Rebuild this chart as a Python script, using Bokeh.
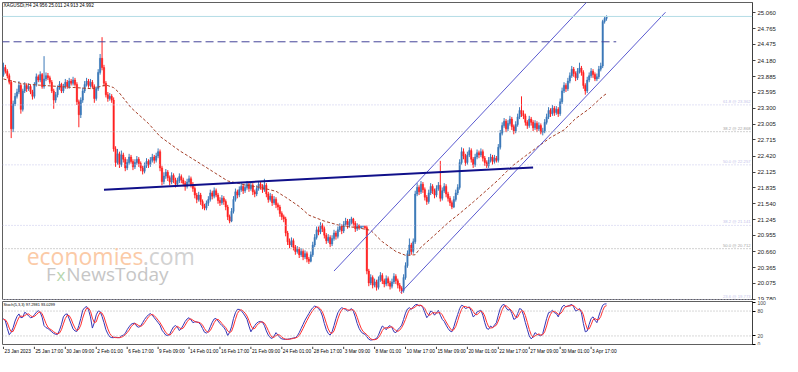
from bokeh.plotting import figure
from bokeh.layouts import column
from bokeh.models import Range1d, FixedTicker, Label, ColumnDataSource, Span, PrintfTickFormatter
from bokeh.embed import file_html
from bokeh.resources import INLINE
from bokeh.core.properties import value

FONT = "Liberation Sans"

# ---------------- data (XAGUSD H4) ----------------
bar_open = [
 23.92,24.05,23.98,23.90,23.78,22.92,23.38,23.52,23.60,23.72,
 23.28,23.62,23.72,23.66,23.70,23.60,23.52,23.74,23.88,23.82,
 23.92,23.70,23.84,23.90,23.86,23.78,23.62,23.45,23.55,23.68,
 23.74,23.62,23.70,23.78,23.70,23.80,23.76,23.82,23.74,23.42,
 23.18,23.45,23.62,23.74,23.80,23.72,23.78,23.70,23.48,23.66,
 23.96,24.22,24.05,23.76,23.55,23.48,23.52,23.45,22.55,22.30,
 22.46,22.26,22.44,22.36,22.20,22.30,22.40,22.32,22.22,22.30,
 22.36,22.28,22.20,22.14,22.24,22.32,22.26,22.34,22.40,22.34,
 22.42,22.50,22.20,21.95,22.05,22.12,22.02,21.94,22.06,21.98,
 21.90,21.96,22.04,21.98,21.92,21.86,21.94,22.00,21.90,21.82,
 21.70,21.62,21.70,21.58,21.50,21.46,21.55,21.62,21.74,21.68,
 21.78,21.70,21.60,21.56,21.64,21.58,21.48,21.30,21.22,21.40,
 21.62,21.76,21.70,21.80,21.86,21.78,21.84,21.90,21.82,21.88,
 21.76,21.72,21.82,21.90,21.86,21.80,21.88,21.72,21.62,21.68,
 21.56,21.62,21.52,21.48,21.36,21.30,21.26,21.00,20.84,20.78,
 20.86,20.74,20.66,20.70,20.60,20.66,20.56,20.62,20.52,20.48,
 20.60,20.78,20.92,21.06,21.02,21.14,21.08,20.96,20.86,20.92,
 20.80,20.90,21.00,20.94,21.06,21.12,21.04,21.16,21.22,21.14,
 21.20,21.26,21.18,21.08,21.14,21.10,21.12,21.12,21.10,20.30,
 20.08,20.18,20.04,20.10,20.00,20.14,20.22,20.12,20.06,20.16,
 20.08,20.02,20.10,20.20,20.12,20.04,19.98,19.94,20.18,20.40,
 20.62,20.78,20.66,20.84,21.72,21.84,21.76,21.90,21.80,21.66,
 21.58,21.74,21.86,21.78,21.70,21.82,21.88,21.64,21.78,21.86,
 21.72,21.64,21.56,21.48,21.62,21.74,21.84,22.30,22.50,22.42,
 22.30,22.44,22.52,22.36,22.26,22.40,22.48,22.44,22.50,22.38,
 22.30,22.24,22.34,22.40,22.32,22.38,22.34,22.58,22.84,22.98,
 23.06,22.92,23.02,23.10,22.96,22.88,23.00,23.14,23.26,23.20,
 23.16,23.04,22.98,23.10,23.04,22.94,23.02,22.92,22.98,22.86,
 22.88,23.04,23.14,23.26,23.20,23.30,23.22,23.28,23.20,23.42,
 23.62,23.72,23.66,23.80,23.90,24.02,23.94,23.86,23.98,24.04,
 23.96,23.72,23.62,23.82,23.90,23.98,23.92,23.84,23.88,24.02,
 24.08,24.90,24.956]
bar_high = [
 24.14,24.10,24.02,23.94,23.82,23.44,23.58,23.66,23.80,23.76,
 23.66,23.78,23.76,23.76,23.73,23.64,23.78,23.94,23.92,23.98,
 23.95,24.26,23.96,23.95,23.90,23.82,23.66,23.60,23.72,23.80,
 23.77,23.75,23.84,23.82,23.86,23.84,23.88,23.86,23.78,23.46,
 23.50,23.68,23.80,23.86,23.84,23.84,23.82,23.74,23.70,24.02,
 24.30,24.61,24.10,23.80,23.60,23.58,23.56,23.50,22.60,22.55,
 22.50,22.52,22.48,22.40,22.36,22.46,22.44,22.36,22.36,22.42,
 22.40,22.32,22.24,22.30,22.38,22.36,22.40,22.46,22.44,22.48,
 22.56,22.54,22.24,22.12,22.18,22.16,22.06,22.12,22.10,22.02,
 22.02,22.10,22.08,22.02,21.96,22.00,22.06,22.04,21.94,21.86,
 21.74,21.76,21.74,21.62,21.54,21.60,21.68,21.80,21.78,21.84,
 21.82,21.74,21.66,21.70,21.68,21.62,21.52,21.34,21.46,21.68,
 21.82,21.80,21.86,21.92,21.90,21.90,21.96,21.94,21.94,21.92,
 21.80,21.88,21.96,21.94,21.90,22.00,21.92,21.76,21.74,21.72,
 21.68,21.66,21.56,21.52,21.40,21.34,21.30,21.04,20.90,20.92,
 20.90,20.78,20.76,20.74,20.72,20.70,20.68,20.66,20.56,20.66,
 20.84,20.98,21.12,21.12,21.20,21.18,21.12,21.00,20.98,20.96,
 20.96,21.06,21.04,21.12,21.18,21.16,21.22,21.28,21.26,21.26,
 21.30,21.28,21.22,21.18,21.16,21.14,21.14,21.14,21.14,20.34,
 20.24,20.22,20.16,20.14,20.20,20.28,20.26,20.16,20.22,20.20,
 20.12,20.16,20.26,20.24,20.16,20.08,20.02,20.24,20.46,20.68,
 20.90,20.82,20.90,21.78,21.92,21.88,21.96,21.94,21.84,21.70,
 21.80,21.92,21.90,21.82,21.88,21.94,22.33,21.84,21.92,21.90,
 21.76,21.68,21.60,21.68,21.80,21.90,22.36,22.58,22.56,22.46,
 22.50,22.58,22.56,22.40,22.46,22.54,22.52,22.56,22.54,22.42,
 22.34,22.40,22.46,22.44,22.44,22.42,22.64,22.90,23.04,23.12,
 23.10,23.08,23.16,23.14,23.00,23.06,23.20,23.32,23.52,23.26,
 23.20,23.08,23.16,23.14,23.08,23.08,23.06,23.04,23.02,22.94,
 23.10,23.20,23.32,23.30,23.36,23.34,23.34,23.32,23.48,23.68,
 23.78,23.76,23.86,23.96,24.08,24.06,23.98,24.04,24.14,24.08,
 24.00,23.76,23.88,23.96,24.04,24.02,23.96,23.94,24.08,24.14,
 24.93,25.00,25.011]
bar_low = [
 23.88,23.94,23.85,23.74,22.75,22.86,23.34,23.48,23.56,23.20,
 23.24,23.58,23.60,23.62,23.56,23.46,23.48,23.70,23.78,23.78,
 23.66,23.66,23.80,23.82,23.74,23.58,23.29,23.40,23.50,23.64,
 23.58,23.58,23.66,23.66,23.66,23.72,23.72,23.70,23.36,22.95,
 23.12,23.40,23.58,23.70,23.68,23.68,23.66,23.40,23.44,23.62,
 23.92,24.00,23.70,23.50,23.42,23.44,23.40,22.50,22.22,22.26,
 22.20,22.22,22.30,22.14,22.16,22.26,22.28,22.16,22.18,22.26,
 22.22,22.14,22.08,22.10,22.20,22.20,22.22,22.30,22.28,22.30,
 22.38,22.14,21.88,21.90,22.00,21.96,21.88,21.90,21.92,21.84,
 21.86,21.92,21.92,21.86,21.78,21.82,21.90,21.84,21.76,21.64,
 21.55,21.58,21.52,21.44,21.42,21.42,21.50,21.58,21.62,21.64,
 21.66,21.54,21.50,21.52,21.52,21.42,21.24,21.18,21.20,21.36,
 21.58,21.64,21.66,21.76,21.72,21.74,21.80,21.76,21.78,21.70,
 21.66,21.68,21.78,21.80,21.74,21.76,21.66,21.56,21.58,21.50,
 21.52,21.46,21.42,21.30,21.24,21.20,20.94,20.78,20.72,20.74,
 20.68,20.60,20.62,20.54,20.56,20.50,20.52,20.46,20.43,20.46,
 20.56,20.74,20.88,20.96,20.98,21.02,20.90,20.80,20.82,20.74,
 20.76,20.86,20.88,20.90,21.02,20.98,21.00,21.12,21.08,21.10,
 21.16,21.12,21.02,21.04,21.06,21.08,21.10,21.06,20.24,20.02,
 20.04,19.98,20.00,19.94,19.96,20.10,20.06,20.00,20.02,20.02,
 19.96,19.98,20.06,20.06,19.98,19.92,19.88,19.90,20.14,20.36,
 20.58,20.60,20.62,20.80,21.68,21.70,21.72,21.74,21.60,21.52,
 21.54,21.70,21.72,21.64,21.66,21.78,21.58,21.60,21.74,21.66,
 21.58,21.50,21.44,21.46,21.58,21.70,21.80,22.26,22.36,22.24,
 22.26,22.40,22.30,22.20,22.22,22.36,22.38,22.40,22.32,22.24,
 22.20,22.20,22.30,22.26,22.28,22.30,22.30,22.54,22.80,22.94,
 22.86,22.88,22.98,22.90,22.82,22.84,22.96,23.10,23.14,23.10,
 22.98,22.92,22.94,22.98,22.88,22.90,22.86,22.88,22.82,22.80,
 22.84,23.00,23.10,23.14,23.16,23.16,23.18,23.14,23.16,23.38,
 23.58,23.60,23.62,23.76,23.86,23.88,23.80,23.82,23.94,23.90,
 23.66,23.55,23.58,23.78,23.86,23.86,23.80,23.80,23.84,23.98,
 24.04,24.86,24.913]
bar_close = [
 24.05,23.98,23.90,23.78,22.92,23.38,23.52,23.60,23.72,23.28,
 23.62,23.72,23.66,23.70,23.60,23.52,23.74,23.88,23.82,23.92,
 23.70,23.84,23.90,23.86,23.78,23.62,23.45,23.55,23.68,23.74,
 23.62,23.70,23.78,23.70,23.80,23.76,23.82,23.74,23.42,23.18,
 23.45,23.62,23.74,23.80,23.72,23.78,23.70,23.48,23.66,23.96,
 24.22,24.05,23.76,23.55,23.48,23.52,23.45,22.55,22.30,22.46,
 22.26,22.44,22.36,22.20,22.30,22.40,22.32,22.22,22.30,22.36,
 22.28,22.20,22.14,22.24,22.32,22.26,22.34,22.40,22.34,22.42,
 22.50,22.20,21.95,22.05,22.12,22.02,21.94,22.06,21.98,21.90,
 21.96,22.04,21.98,21.92,21.86,21.94,22.00,21.90,21.82,21.70,
 21.62,21.70,21.58,21.50,21.46,21.55,21.62,21.74,21.68,21.78,
 21.70,21.60,21.56,21.64,21.58,21.48,21.30,21.22,21.40,21.62,
 21.76,21.70,21.80,21.86,21.78,21.84,21.90,21.82,21.88,21.76,
 21.72,21.82,21.90,21.86,21.80,21.88,21.72,21.62,21.68,21.56,
 21.62,21.52,21.48,21.36,21.30,21.26,21.00,20.84,20.78,20.86,
 20.74,20.66,20.70,20.60,20.66,20.56,20.62,20.52,20.48,20.60,
 20.78,20.92,21.06,21.02,21.14,21.08,20.96,20.86,20.92,20.80,
 20.90,21.00,20.94,21.06,21.12,21.04,21.16,21.22,21.14,21.20,
 21.26,21.18,21.08,21.14,21.10,21.12,21.12,21.10,20.30,20.08,
 20.18,20.04,20.10,20.00,20.14,20.22,20.12,20.06,20.16,20.08,
 20.02,20.10,20.20,20.12,20.04,19.98,19.94,20.18,20.40,20.62,
 20.78,20.66,20.84,21.72,21.84,21.76,21.90,21.80,21.66,21.58,
 21.74,21.86,21.78,21.70,21.82,21.88,21.64,21.78,21.86,21.72,
 21.64,21.56,21.48,21.62,21.74,21.84,22.30,22.50,22.42,22.30,
 22.44,22.52,22.36,22.26,22.40,22.48,22.44,22.50,22.38,22.30,
 22.24,22.34,22.40,22.32,22.38,22.34,22.58,22.84,22.98,23.06,
 22.92,23.02,23.10,22.96,22.88,23.00,23.14,23.26,23.20,23.16,
 23.04,22.98,23.10,23.04,22.94,23.02,22.92,22.98,22.86,22.88,
 23.04,23.14,23.26,23.20,23.30,23.22,23.28,23.20,23.42,23.62,
 23.72,23.66,23.80,23.90,24.02,23.94,23.86,23.98,24.04,23.96,
 23.72,23.62,23.82,23.90,23.98,23.92,23.84,23.88,24.02,24.08,
 24.90,24.956,24.992]

# moving average (dashed), read at selected bars
ma_bar = [0, 10, 17, 33, 46, 53, 57, 60, 66, 75, 81, 91, 100, 108, 116, 126, 133, 141, 146,
          153, 158, 166, 175, 183, 190, 196, 203, 208, 213, 216, 223, 230, 236, 243, 250,
          256, 263, 270, 276, 283, 290, 296, 303, 310, 312]
ma_price = [23.84, 23.75, 23.73, 23.69, 23.66, 23.73, 23.68, 23.58, 23.31, 23.02, 22.78, 22.52,
            22.32, 22.14, 21.96, 21.88, 21.84, 21.77, 21.66, 21.49, 21.33, 21.22, 21.13, 21.10,
            21.05, 20.84, 20.66, 20.59, 20.60, 20.74, 20.96, 21.19, 21.36, 21.57, 21.79, 21.98,
            22.23, 22.42, 22.58, 22.76, 22.90, 23.11, 23.29, 23.52, 23.57]

# stochastic (5,3,3): main line (blue) and signal line (red)
stoch_main = [
 62,56,38,23,29,40,56,67,73,64, 65,77,74,68,64,65,71,77,81,77,
 65,45,40,38,34,30,26,24,24,34, 48,66,72,73,61,49,37,32,31,45,
 62,82,88,91,83,66,39,52,71,80, 79,67,52,35,25,18,16,16,17,16,
 16,20,22,26,35,42,48,50,51,43, 41,44,52,60,66,71,74,70,64,58,
 52,46,34,28,22,21,24,34,42,45, 41,33,38,46,55,61,64,59,52,54,
 54,52,47,38,29,27,31,42,53,61, 62,56,50,45,41,33,21,29,42,62,
 76,84,84,81,75,68,60,44,30,38, 45,51,54,55,53,45,32,22,16,14,
 20,28,22,16,13,12,12,12,13,14, 15,16,20,28,38,48,58,66,74,82,
 88,92,90,86,80,68,50,35,26,22, 30,45,62,76,84,88,86,84,80,82,
 86,80,66,50,38,30,26,24,18,12, 10,11,12,14,22,34,44,40,35,42,
 45,40,30,28,35,40,46,60,75,85, 88,84,90,95,96,92,94,88,76,64,
 70,80,78,70,76,82,70,60,55,46, 38,32,30,42,58,72,86,94,92,86,
 88,90,80,66,70,78,80,82,70,52, 38,36,44,40,46,52,70,86,94,96,
 88,82,84,74,60,62,74,86,84,70, 52,36,20,13,18,28,24,22,20,26,
 44,62,76,78,82,76,74,66,78,90, 94,90,92,94,96,90,80,82,86,76,
 50,30,32,48,62,66,58,52,68,82, 94,97,97.2981]
stoch_signal = [
 60,59,52,39,30,31,42,54,65,68, 67,69,72,73,69,66,67,71,76,78,
 74,62,50,41,37,34,30,27,25,27, 35,49,62,70,69,61,49,39,33,36,
 46,63,77,87,87,80,63,52,54,68, 77,75,66,51,37,26,20,17,16,16,
 16,17,19,23,28,34,42,47,50,48, 45,43,46,52,59,66,70,72,69,64,
 58,52,44,36,28,24,22,26,33,40, 43,40,37,39,46,54,60,61,58,55,
 53,53,51,46,38,31,29,33,42,52, 59,60,56,50,45,40,32,28,31,44,
 60,74,81,83,80,75,68,57,45,37, 38,45,50,53,54,51,43,33,23,17,
 17,21,23,22,17,14,12,12,12,13, 14,15,17,21,29,38,48,57,66,74,
 81,87,90,89,85,78,66,51,37,28, 26,32,46,61,74,83,86,86,83,82,
 83,83,77,65,51,39,31,27,23,18, 13,11,11,12,16,23,33,39,40,39,
 41,42,38,33,31,34,40,49,60,73, 83,86,87,90,94,94,94,91,86,76,
 70,71,76,76,75,76,76,71,62,54, 46,39,33,35,43,57,72,84,91,91,
 89,88,86,79,72,71,76,80,77,68, 53,42,39,40,43,46,56,69,83,92,
 93,89,85,80,73,65,65,74,81,80, 69,53,36,23,17,20,23,25,22,23,
 30,44,61,72,79,79,77,72,73,78, 87,91,92,92,94,93,89,84,83,81,
 71,52,37,37,47,59,62,59,59,67, 81,91,93.0299]

price_ticks = [19.780, 20.075, 20.365, 20.660, 20.955, 21.245, 21.540, 21.835, 22.125, 22.420,
               22.715, 23.005, 23.300, 23.595, 23.885, 24.180, 24.475, 24.765, 25.060]
date_tick_bars = list(range(0, 305, 16))
date_tick_labels = ["23 Jan 2023", "25 Jan 17:00", "30 Jan 09:00", "2 Feb 01:00", "6 Feb 17:00",
                    "9 Feb 09:00", "14 Feb 01:00", "16 Feb 17:00", "21 Feb 09:00", "24 Feb 01:00",
                    "28 Feb 17:00", "3 Mar 09:00", "8 Mar 01:00", "10 Mar 17:00", "15 Mar 09:00",
                    "20 Mar 01:00", "22 Mar 17:00", "27 Mar 09:00", "30 Mar 01:00", "3 Apr 17:00"]

fib_levels = [23.362, 22.868, 22.257, 21.141, 20.712, 19.773]
fib_texts = ["61.8 @ 23.362", "38.2 @ 22.868", "50.0 @ 22.257", "38.2 @ 21.141", "50.0 @ 20.712", "23.6 @ 19.773"]
fib_colors = ["#c4c4ea", "#a4a4a4", "#c4c4ea", "#c4c4ea", "#a4a4a4", "#c4c4ea"]

trend_bars = [52, 274]
trend_prices = [21.80, 22.21]
chan_up_bars = [171, 305]
chan_up_prices = [20.30, 25.38]
chan_lo_bars = [205.5, 342.5]
chan_lo_prices = [19.90, 25.07]
resist_bars = [-1, 317]
resist_prices = [24.525, 24.525]
bid_price = 24.992
title_text = "XAGUSDi,H4  24.956 25.011 24.913 24.992"
stoch_text = "Stoch(5,3,3) 97.2981 93.0299"

# ---------------- main price panel ----------------
n = min(len(bar_open), len(bar_high), len(bar_low), len(bar_close))
bars = list(range(n))
cols = ["#3b78b8" if bar_close[i] >= bar_open[i] else "#ff2020" for i in range(n)]
src = ColumnDataSource(dict(
    x=bars, h=bar_high[:n], l=bar_low[:n],
    top=[max(bar_open[i], bar_close[i]) for i in range(n)],
    bot=[min(bar_open[i], bar_close[i]) for i in range(n)], col=cols))

xr = Range1d(-0.5, 387.5)
W, RB = 782, 30
p = figure(width=W, height=300, x_range=xr, y_range=Range1d(19.757, 25.249),
           output_backend="svg", toolbar_location=None, x_axis_location=None,
           y_axis_location="right", min_border_left=2, min_border_right=RB,
           min_border_top=2, min_border_bottom=0, outline_line_color="#606060",
           background_fill_color="white", border_fill_color="white")
p.grid.visible = False

ax = p.yaxis[0]
ax.ticker = FixedTicker(ticks=price_ticks)
ax.formatter = PrintfTickFormatter(format="%.3f")
ax.major_label_text_font_size = "6px"
ax.major_label_text_font = FONT
ax.major_label_text_color = "#222222"
ax.major_tick_out = 3
ax.major_tick_in = 0
ax.minor_tick_out = 0
ax.minor_tick_in = 0
ax.major_label_standoff = 2
ax.axis_line_color = "#404040"
ax.major_tick_line_color = "#404040"

for lv, col in zip(fib_levels, fib_colors):
    p.add_layout(Span(location=lv, dimension="width", line_color=col, line_dash="1 2", line_width=1))
for lv, t, col in zip(fib_levels, fib_texts, fib_colors):
    p.add_layout(Label(x=386.5, y=lv, text=t, text_align="right", text_baseline="bottom",
                       text_font=FONT, text_font_size="4.2px", text_color=col, y_offset=1))
p.add_layout(Span(location=bid_price, dimension="width", line_color="#b4dce6", line_width=1))

# watermark
p.add_layout(Label(x=12, y=20.58, text="economies", text_font="Open Sans", text_font_size="23px",
                   text_color="#fbcaa6", text_baseline="alphabetic"))
p.add_layout(Label(x=72, y=20.58, text=".com", text_font="Open Sans", text_font_size="23px",
                   text_color="#d2d2d2", text_baseline="alphabetic"))
p.add_layout(Label(x=22, y=20.24, text="F", text_font="Open Sans", text_font_size="19px",
                   text_color="#c6c6c6", text_baseline="alphabetic"))
p.add_layout(Label(x=27.5, y=20.24, text="x", text_font="Open Sans", text_font_size="17px",
                   text_color="#b6d6ae", text_baseline="alphabetic"))
p.add_layout(Label(x=32.5, y=20.24, text="NewsToday", text_font="Open Sans", text_font_size="19px",
                   text_color="#c6c6c6", text_baseline="alphabetic"))

# candles
p.segment(x0="x", y0="l", x1="x", y1="h", line_color="col", line_width=1, source=src)
p.vbar(x="x", width=0.7, top="top", bottom="bot", fill_color="col", line_color="col",
       line_width=0.5, source=src)

# indicators & drawings
p.line(ma_bar, ma_price, line_color="#a5402a", line_dash="3 2", line_width=1)
p.line(resist_bars, resist_prices, line_color="#45459a", line_dash="8 4", line_width=1)
p.line(chan_up_bars, chan_up_prices, line_color="#5a5ad0", line_width=1)
p.line(chan_lo_bars, chan_lo_prices, line_color="#5a5ad0", line_width=1)
p.line(trend_bars, trend_prices, line_color="#10108a", line_width=2)

p.add_layout(Label(x=0, y=25.235, text=title_text, text_font=FONT, text_font_size="4.7px",
                   text_color="black", text_baseline="top"))
p.add_layout(Label(x=387.6, y=bid_price, text="%.3f" % bid_price, text_font=FONT,
                   text_font_size="6px", text_color="white", text_baseline="middle",
                   background_fill_color="black", padding=1))

# ---------------- stochastic panel ----------------
q = figure(width=W, height=45, x_range=xr, y_range=Range1d(-3, 103),
           output_backend="svg", toolbar_location=None, y_axis_location="right",
           x_axis_location=None, min_border_left=2, min_border_right=RB, min_border_top=1,
           min_border_bottom=0, outline_line_color="#606060",
           background_fill_color="white", border_fill_color="white")
q.grid.visible = False
for lv in (80, 20):
    q.add_layout(Span(location=lv, dimension="width", line_color="#b0b0b0", line_dash="1 2"))
q.line(list(range(len(stoch_main))), stoch_main, line_color="#3535b5", line_width=1)
q.line(list(range(len(stoch_signal))), stoch_signal, line_color="#ff3030", line_width=1)
q.add_layout(Label(x=0, y=101, text=stoch_text, text_font=FONT, text_font_size="3.9px",
                   text_color="black", text_baseline="top"))

qa = q.yaxis[0]
qa.ticker = FixedTicker(ticks=[0, 20, 80, 100])
qa.major_label_text_font_size = "5px"
qa.major_label_text_font = FONT
qa.major_tick_out = 3
qa.major_tick_in = 0
qa.minor_tick_out = 0
qa.minor_tick_in = 0
qa.major_label_standoff = 2
qa.axis_line_color = "#404040"

# ---------------- time axis strip ----------------
d = figure(width=W, height=11, x_range=xr, y_range=Range1d(0, 11),
           output_backend="svg", toolbar_location=None, x_axis_location=None,
           y_axis_location=None, min_border_left=2, min_border_right=RB, min_border_top=0,
           min_border_bottom=0, outline_line_color=None,
           background_fill_color="white", border_fill_color="white")
d.grid.visible = False
d.segment(x0=date_tick_bars, y0=[11] * len(date_tick_bars), x1=date_tick_bars,
          y1=[8.5] * len(date_tick_bars), line_color="#404040", line_width=1)
d.text(x=date_tick_bars, y=[8.5] * len(date_tick_bars), text=date_tick_labels,
       text_font=value(FONT), text_font_size="4.8px", text_color="black",
       text_baseline="top", text_align="left", x_offset=1)

layout = column(p, q, d, spacing=0)
open("out.html", "w").write(file_html(layout, INLINE))
